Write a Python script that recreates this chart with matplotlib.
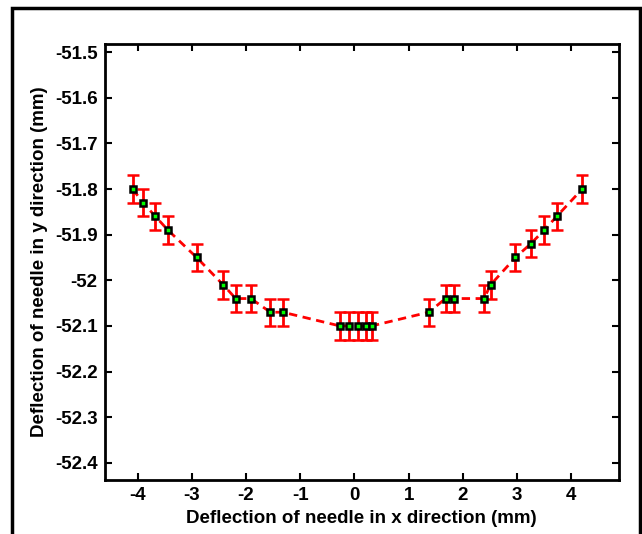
import matplotlib
matplotlib.use("Agg")
import matplotlib.pyplot as plt
from matplotlib.patches import Rectangle

# values
x_defl = [-4.09, -3.90, -3.67, -3.44, -2.91, -2.42, -2.19, -1.91, -1.55, -1.32,
          -0.27, -0.10, 0.06, 0.22, 0.32,
          1.37, 1.68, 1.83, 2.39, 2.51, 2.97, 3.25, 3.50, 3.73, 4.20]
y_defl = [-51.80, -51.83, -51.86, -51.89, -51.95, -52.01, -52.04, -52.04, -52.07, -52.07,
          -52.10, -52.10, -52.10, -52.10, -52.10,
          -52.07, -52.04, -52.04, -52.04, -52.01, -51.95, -51.92, -51.89, -51.86, -51.80]
y_err = [0.03] * len(x_defl)
x_ticks = [-4, -3, -2, -1, 0, 1, 2, 3, 4]
y_ticks = [-51.5, -51.6, -51.7, -51.8, -51.9, -52.0, -52.1, -52.2, -52.3, -52.4]
y_ticklabels = ["-51.5", "-51.6", "-51.7", "-51.8", "-51.9", "-52", "-52.1", "-52.2", "-52.3", "-52.4"]

plt.rcParams["font.family"] = "Liberation Sans"
plt.rcParams["font.weight"] = "bold"

fig = plt.figure(figsize=(6.42, 5.34), dpi=100)
ax = fig.add_axes([0.1628, 0.101, 0.8014, 0.8165])

ax.errorbar(x_defl, y_defl, yerr=y_err, fmt="s--", color="red", lw=2,
            ecolor="red", elinewidth=2, capsize=4, capthick=2,
            markersize=5, markerfacecolor="#00ff00", markeredgecolor="black",
            markeredgewidth=1.8, dashes=(3, 2))

ax.set_xlim(-4.61, 4.88)
ax.set_ylim(-52.438, -51.482)
ax.set_xticks(x_ticks)
ax.set_xticklabels([str(v) for v in x_ticks])
ax.set_yticks(y_ticks)
ax.set_yticklabels(y_ticklabels)
ax.tick_params(direction="in", length=5, width=1.5, top=True, right=True,
               labelsize=13.5, pad=5)
for s in ax.spines.values():
    s.set_linewidth(2)

ax.set_xlabel("Deflection of needle in x direction (mm)", fontsize=13.5, fontweight="bold", labelpad=4)
ax.set_ylabel("Deflection of needle in y direction (mm)", fontsize=13.5, fontweight="bold", labelpad=5)

# frame around the whole picture
fig.patches.append(Rectangle((12 / 642, -0.05), 628 / 642, 1 - 8 / 534 + 0.05,
                             transform=fig.transFigure, fill=False,
                             edgecolor="black", lw=2.5))

fig.savefig("out.png", dpi=100)
